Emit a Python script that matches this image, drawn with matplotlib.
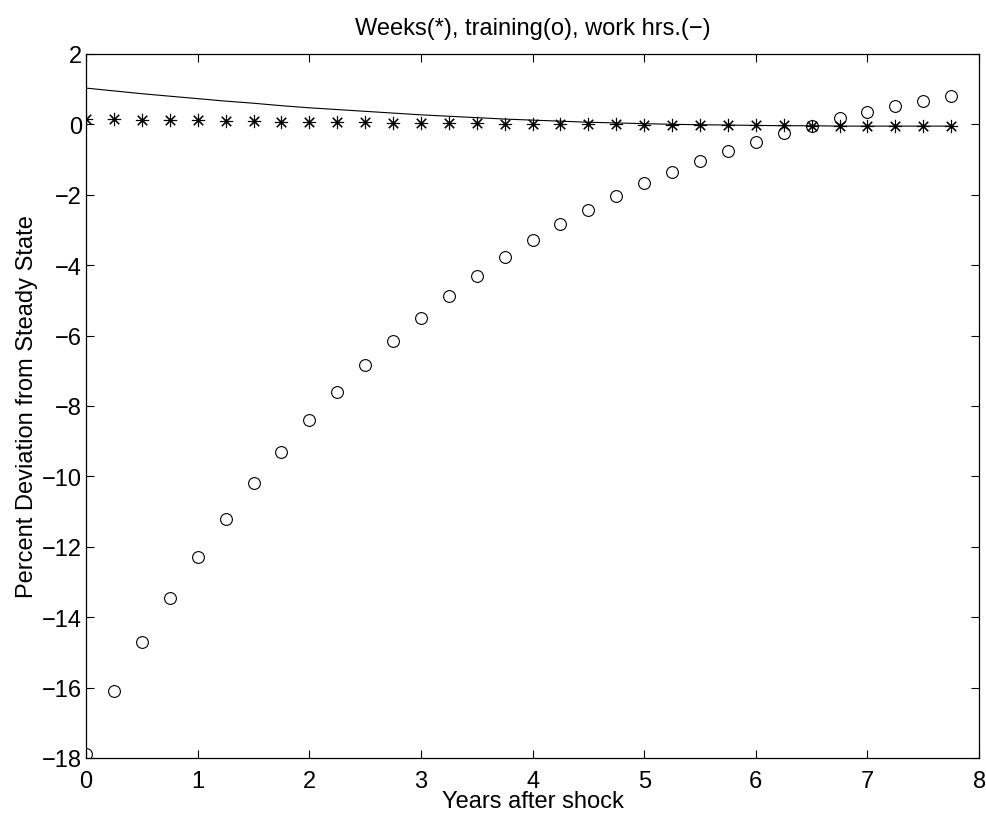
import numpy as np
import matplotlib
matplotlib.use('Agg')
import matplotlib.pyplot as plt

plt.rcParams['font.family'] = ['Liberation Sans', 'DejaVu Sans']

years = np.arange(32) * 0.25  # 0 .. 7.75, quarterly

weeks = [0.14, 0.14, 0.13, 0.12, 0.11, 0.10, 0.09, 0.08,
         0.07, 0.07, 0.06, 0.05, 0.04, 0.03, 0.03, 0.02,
         0.01, 0.01, 0.00, 0.00, -0.01, -0.01, -0.02, -0.02,
         -0.03, -0.03, -0.04, -0.04, -0.04, -0.05, -0.05, -0.05]

training = [-17.9, -16.1, -14.7, -13.45, -12.3, -11.2, -10.2, -9.3,
            -8.4, -7.6, -6.85, -6.15, -5.5, -4.88, -4.3, -3.78,
            -3.28, -2.83, -2.42, -2.03, -1.68, -1.35, -1.03, -0.75,
            -0.49, -0.25, -0.04, 0.17, 0.34, 0.51, 0.66, 0.81]

work_hrs = [1.03, 0.95, 0.87, 0.80, 0.73, 0.66, 0.60, 0.53,
            0.47, 0.42, 0.37, 0.32, 0.27, 0.23, 0.19, 0.15,
            0.12, 0.09, 0.06, 0.04, 0.02, 0.00, -0.01, -0.02,
            -0.03, -0.04, -0.04, -0.05, -0.05, -0.05, -0.05, -0.05]

fig = plt.figure(figsize=(9.87, 8.2), dpi=100)
ax = fig.add_axes([0.0872, 0.0744, 0.9048, 0.8586])

ax.plot(years, weeks, linestyle='none', marker=(8, 2, 0), markersize=9.5,
        markeredgewidth=0.8, color='black')
ax.plot(years, training, linestyle='none', marker='o', markersize=8.5,
        markerfacecolor='none', markeredgewidth=0.8, color='black')
ax.plot(years, work_hrs, '-', linewidth=0.8, color='black')

ax.set_xlim(0, 8)
ax.set_ylim(-18, 2)
ax.set_xticks(range(0, 9))
ax.set_yticks(range(-18, 3, 2))
ax.set_yticklabels([str(v).replace('-', '\u2212') for v in range(-18, 3, 2)])
ax.tick_params(direction='in', top=True, right=True, length=6, width=0.8,
               labelsize=17, pad=3)
ax.tick_params(axis='x', pad=8.5)
for s in ax.spines.values():
    s.set_linewidth(0.9)

ax.set_title('Weeks(*), training(o), work hrs.(\u2212)', fontsize=17, pad=14)
ax.set_xlabel('Years after shock', fontsize=17, labelpad=-1)
ax.set_ylabel('Percent Deviation from Steady State', fontsize=17, labelpad=3)

fig.savefig('out.png', dpi=100)
